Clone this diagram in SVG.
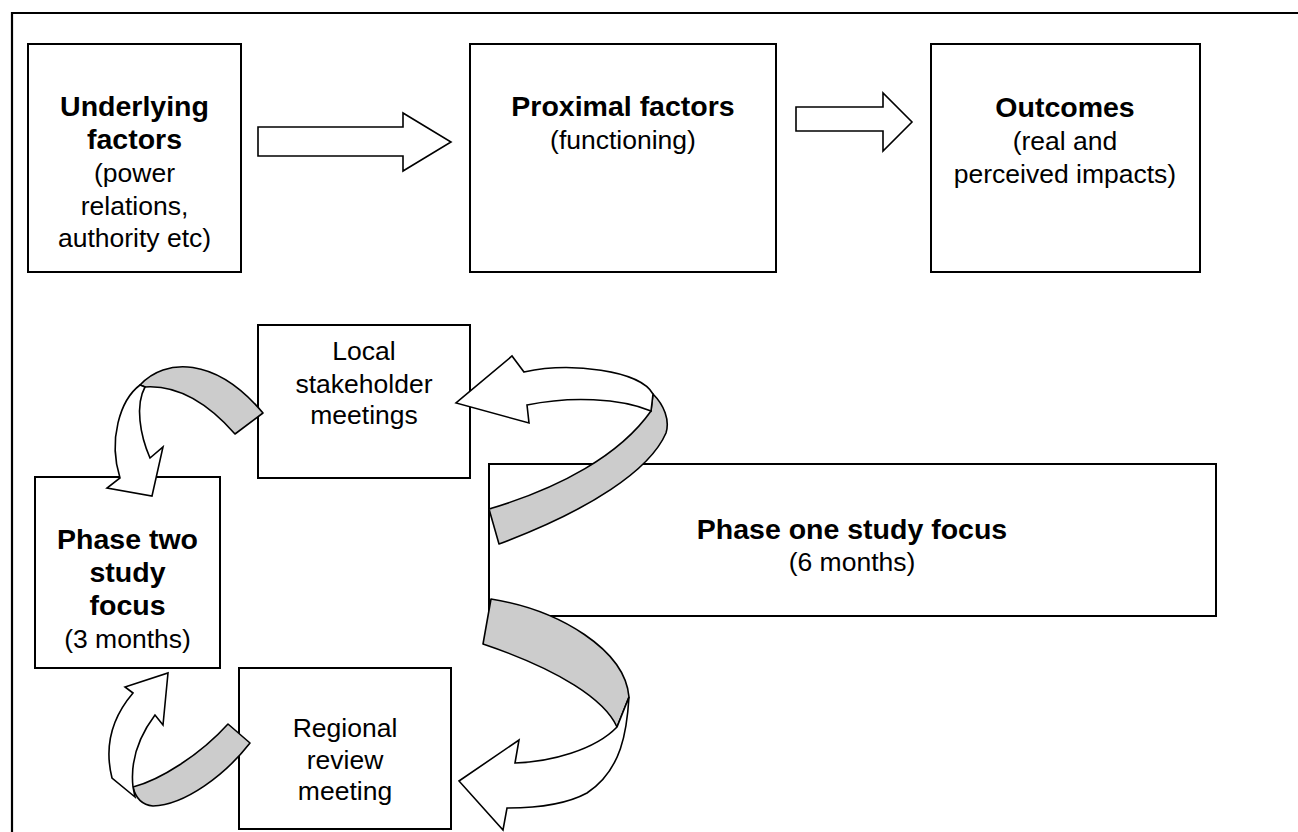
<svg xmlns="http://www.w3.org/2000/svg" width="1298" height="832" viewBox="0 0 1298 832">
<style>
.box{fill:#fff;stroke:#000;stroke-width:2}
.frame{fill:none;stroke:#000;stroke-width:2.2}
.arr{fill:#fff;stroke:#000;stroke-width:1.6;stroke-linejoin:miter}
.back{fill:#cccccc;stroke:#000;stroke-width:1.6;stroke-linejoin:round}
text{font-family:"Liberation Sans",Arial,sans-serif;font-size:26.5px;text-anchor:middle;fill:#000}
.b{font-weight:bold;font-size:28.5px}
</style>
<rect width="1298" height="832" fill="#fff"/>
<path class="frame" d="M12,832 L12,13 L1298,13"/>

<g id="underlying">
<rect class="box" x="28" y="44" width="213" height="228"/>
<text x="134.5" y="116" class="b">Underlying</text>
<text x="134.5" y="149" class="b">factors</text>
<text x="134.5" y="182">(power</text>
<text x="134.5" y="215">relations,</text>
<text x="134.5" y="247">authority etc)</text>
</g>
<g id="proximal">
<rect class="box" x="470" y="44" width="306" height="228"/>
<text x="623" y="116" class="b">Proximal factors</text>
<text x="623" y="149">(functioning)</text>
</g>
<g id="outcomes">
<rect class="box" x="931" y="44" width="269" height="228"/>
<text x="1065" y="117" class="b">Outcomes</text>
<text x="1065" y="150">(real and</text>
<text x="1065" y="183">perceived impacts)</text>
</g>
<g id="local">
<rect class="box" x="258" y="325" width="212" height="153"/>
<text x="364" y="360">Local</text>
<text x="364" y="393">stakeholder</text>
<text x="364" y="424">meetings</text>
</g>
<g id="phase-two">
<rect class="box" x="35" y="477" width="185" height="191"/>
<text x="127.5" y="549" class="b">Phase two</text>
<text x="127.5" y="582" class="b">study</text>
<text x="127.5" y="615" class="b">focus</text>
<text x="127.5" y="648">(3 months)</text>
</g>
<g id="phase-one">
<rect class="box" x="489" y="464" width="727" height="152"/>
<text x="852" y="539" class="b">Phase one study focus</text>
<text x="852" y="571">(6 months)</text>
</g>
<g id="regional">
<rect class="box" x="239" y="668" width="212" height="161"/>
<text x="345" y="737">Regional</text>
<text x="345" y="769">review</text>
<text x="345" y="800">meeting</text>
</g>

<g id="connectors">
<path class="arr" d="M258,127 L403,127 L403,113 L451,142 L403,171 L403,156 L258,156 Z"/>
<path class="arr" d="M796,107 L883,107 L883,93 L912,122 L883,151 L883,131 L796,131 Z"/>
<!-- A: phase one -> local -->
<path class="back" d="M653,394 C664,405 670,420 666,433 C650,470 590,510 499,544 L489,509 C560,488 620,455 651,411 Z"/>
<path class="arr" d="M653,394 C640,370 570,362 524,372 L512,356 L456,403 L529,423 L527,405 C570,396 620,398 651,411 Z"/>
<!-- B: phase one -> regional -->
<path class="back" d="M491,599 C560,610 625,650 629,697 L617,727 C605,700 560,670 483,644 Z"/>
<path class="arr" d="M629,697 C627,730 622,770 587,793 C565,805 535,808 507,808 L503,830 L459,781 L519,740 L515,763 C550,762 595,750 617,727 Z"/>
<!-- C: local -> phase two -->
<path class="back" d="M140,385 C165,358 215,356 263,413 L235,434 C205,400 175,385 145,387 Z"/>
<path class="arr" d="M140,385 C120,400 108,440 120,478 L107,488 L152,496 L163,447 L150,458 C140,435 135,405 145,387 Z"/>
<!-- D: regional -> phase two -->
<path class="back" d="M228,724 L250,743 C225,775 185,805 153,806 C143,805 136,800 133,787 C160,780 200,755 228,724 Z"/>
<path class="arr" d="M135,797 L112,778 C105,750 110,720 133,693 L125,687 L168,673 L163,725 L155,715 C140,735 130,760 133,787 Z"/>
</g>
</svg>
